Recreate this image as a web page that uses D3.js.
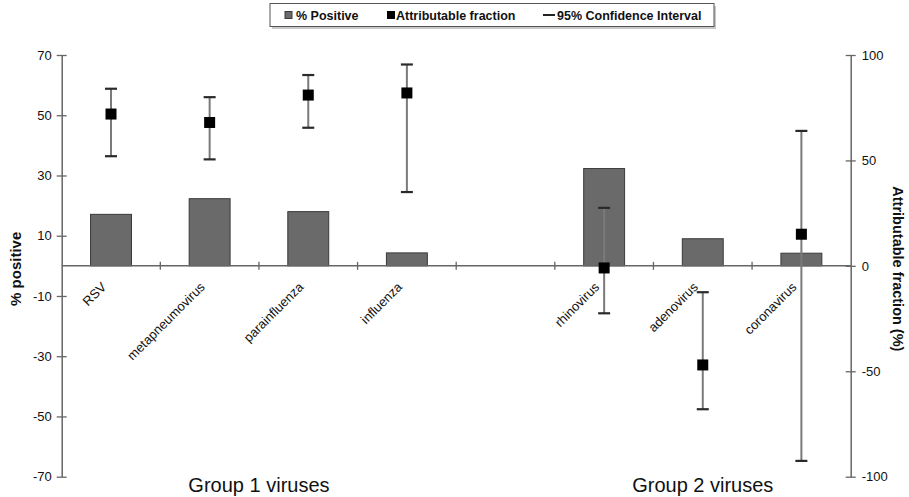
<!DOCTYPE html>
<html>
<head>
<meta charset="utf-8">
<script src="https://cdn.jsdelivr.net/npm/d3@7"></script>
<style>
  html, body { margin: 0; padding: 0; background: #fff; }
  svg { display: block; font-family: "Liberation Sans", Arial, sans-serif; }
</style>
</head>
<body>
<svg id="chart" width="909" height="497"></svg>
<script>
// ---- data ----
const categories = ["RSV", "metapneumovirus", "parainfluenza", "influenza", "", "rhinovirus", "adenovirus", "coronavirus"];
const percentPositive = [17.1, 22.3, 18.0, 4.3, null, 32.3, 9.0, 4.2];
const attributableFraction = [72, 68, 81, 82, null, -1, -47, 15];
const ciLower = [52, 50.5, 65.5, 35, null, -22.5, -68, -92.5];
const ciUpper = [84, 80, 90.5, 95.5, null, 27.5, -12.5, 64];
const leftTicks = [70, 50, 30, 10, -10, -30, -50, -70];
const rightTicks = [100, 50, 0, -50, -100];
const groups = [
  { label: "Group 1 viruses", from: 0, to: 3 },
  { label: "Group 2 viruses", from: 5, to: 7 }
];
const legendItems = ["% Positive", "Attributable fraction", "95% Confidence Interval"];

// ---- layout ----
const svg = d3.select("#chart");
const plotLeft = 61.7, plotRight = 850.7, plotTop = 55, plotBottom = 476.7;
const axisColor = "#666";
const textColor = "#111";

const x = d3.scaleBand().domain(d3.range(categories.length)).range([plotLeft, plotRight]).padding(0);
const yL = d3.scaleLinear().domain([-70, 70]).range([plotBottom, plotTop]);
const yR = d3.scaleLinear().domain([-100, 100]).range([plotBottom, plotTop]);
const cx = i => x(i) + x.bandwidth() / 2;
const zeroY = yL(0);
const fmt = d => String(d);

// ---- bars ----
const barW = x.bandwidth() * 0.415;
svg.append("g").selectAll("rect")
  .data(percentPositive.map((v, i) => ({ v, i })).filter(d => d.v !== null))
  .join("rect")
  .attr("x", d => cx(d.i) - barW / 2)
  .attr("y", d => yL(d.v))
  .attr("width", barW)
  .attr("height", d => yL(0) - yL(d.v))
  .attr("fill", "#6a6a6a")
  .attr("stroke", "#3a3a3a")
  .attr("stroke-width", 1);

// ---- zero line with category boundary ticks ----
const xAxisG = svg.append("g");
xAxisG.append("line")
  .attr("x1", plotLeft).attr("x2", plotRight)
  .attr("y1", zeroY).attr("y2", zeroY)
  .attr("stroke", axisColor).attr("stroke-width", 1.5);
xAxisG.selectAll("line.tick")
  .data(d3.range(1, categories.length))
  .join("line")
  .attr("class", "tick")
  .attr("x1", i => x(i)).attr("x2", i => x(i))
  .attr("y1", zeroY - 4).attr("y2", zeroY + 4)
  .attr("stroke", axisColor).attr("stroke-width", 1.3);

// ---- category labels ----
svg.append("g").selectAll("text")
  .data(categories.map((c, i) => ({ c, i })).filter(d => d.c !== ""))
  .join("text")
  .attr("transform", d => "translate(" + (cx(d.i) - 4) + "," + (zeroY + 22) + ") rotate(-45)")
  .attr("text-anchor", "end")
  .attr("font-size", 13)
  .attr("fill", textColor)
  .text(d => d.c);

// ---- left axis ----
const leftAxis = svg.append("g")
  .attr("transform", `translate(${plotLeft},0)`)
  .call(d3.axisLeft(yL).tickValues(leftTicks).tickFormat(fmt).tickSize(5).tickSizeOuter(0).tickPadding(5));
leftAxis.select(".domain").attr("stroke", axisColor).attr("stroke-width", 1.5);
leftAxis.selectAll(".tick line").attr("x1", 5).attr("stroke", axisColor).attr("stroke-width", 1.3);
leftAxis.selectAll(".tick text").attr("font-size", 13).attr("fill", textColor).attr("font-family", "Liberation Sans, Arial, sans-serif");

// ---- right axis ----
const rightAxis = svg.append("g")
  .attr("transform", `translate(${plotRight},0)`)
  .call(d3.axisRight(yR).tickValues(rightTicks).tickFormat(fmt).tickSize(5).tickSizeOuter(0).tickPadding(6));
rightAxis.select(".domain").attr("stroke", axisColor).attr("stroke-width", 1.5);
rightAxis.selectAll(".tick line").attr("x1", -5).attr("stroke", axisColor).attr("stroke-width", 1.3);
rightAxis.selectAll(".tick text").attr("font-size", 13).attr("fill", textColor).attr("font-family", "Liberation Sans, Arial, sans-serif");

// ---- error bars + points ----
const afData = attributableFraction.map((v, i) => ({ v, i, lo: ciLower[i], hi: ciUpper[i] })).filter(d => d.v !== null);
const eg = svg.append("g");
eg.selectAll("line.whisker")
  .data(afData).join("line").attr("class", "whisker")
  .attr("x1", d => cx(d.i)).attr("x2", d => cx(d.i))
  .attr("y1", d => yR(d.lo)).attr("y2", d => yR(d.hi))
  .attr("stroke", "#7a7a7a").attr("stroke-width", 2);
const capW = 12;
["lo", "hi"].forEach(k => {
  eg.selectAll("line.cap-" + k)
    .data(afData).join("line").attr("class", "cap-" + k)
    .attr("x1", d => cx(d.i) - capW / 2).attr("x2", d => cx(d.i) + capW / 2)
    .attr("y1", d => yR(d[k])).attr("y2", d => yR(d[k]))
    .attr("stroke", "#2a2a2a").attr("stroke-width", 2.2);
});
const sq = 11;
eg.selectAll("rect.pt")
  .data(afData).join("rect").attr("class", "pt")
  .attr("x", d => cx(d.i) - sq / 2).attr("y", d => yR(d.v) - sq / 2)
  .attr("width", sq).attr("height", sq)
  .attr("fill", "#000");

// ---- axis titles ----
svg.append("text")
  .attr("transform", `translate(21,${(plotTop + plotBottom) / 2 + 3}) rotate(-90)`)
  .attr("text-anchor", "middle")
  .attr("font-size", 15).attr("font-weight", "bold").attr("fill", "#111")
  .text("% positive");
svg.append("text")
  .attr("transform", `translate(893,${(plotTop + plotBottom) / 2 + 3}) rotate(90)`)
  .attr("text-anchor", "middle")
  .attr("font-size", 14.5).attr("font-weight", "bold").attr("fill", "#111")
  .text("Attributable fraction (%)");

// ---- group labels ----
svg.append("g").selectAll("text")
  .data(groups).join("text")
  .attr("x", d => (cx(d.from) + cx(d.to)) / 2)
  .attr("y", 492)
  .attr("text-anchor", "middle")
  .attr("font-size", 20).attr("fill", textColor)
  .text(d => d.label);

// ---- legend ----
const lg = svg.append("g");
lg.append("rect").attr("x", 272).attr("y", 6).attr("width", 444).attr("height", 23).attr("fill", "#c8c8c8");
lg.append("rect").attr("x", 270).attr("y", 3.5).attr("width", 444).attr("height", 23)
  .attr("fill", "#fff").attr("stroke", "#555").attr("stroke-width", 1);
const ly = 15;
lg.append("rect").attr("x", 285).attr("y", ly - 3.5).attr("width", 7).attr("height", 7)
  .attr("fill", "#6a6a6a").attr("stroke", "#3a3a3a").attr("stroke-width", 1);
lg.append("text").attr("x", 296).attr("y", ly + 4.5).attr("font-size", 12.5).attr("font-weight", "bold").attr("fill", textColor).text(legendItems[0]);
lg.append("rect").attr("x", 387).attr("y", ly - 4).attr("width", 8).attr("height", 8).attr("fill", "#000");
lg.append("text").attr("x", 396).attr("y", ly + 4.5).attr("font-size", 12.5).attr("font-weight", "bold").attr("fill", textColor).text(legendItems[1]);
lg.append("line").attr("x1", 543).attr("x2", 555).attr("y1", ly).attr("y2", ly).attr("stroke", "#222").attr("stroke-width", 2);
lg.append("text").attr("x", 557).attr("y", ly + 4.5).attr("font-size", 12.5).attr("font-weight", "bold").attr("fill", textColor).text(legendItems[2]);
</script>
</body>
</html>
